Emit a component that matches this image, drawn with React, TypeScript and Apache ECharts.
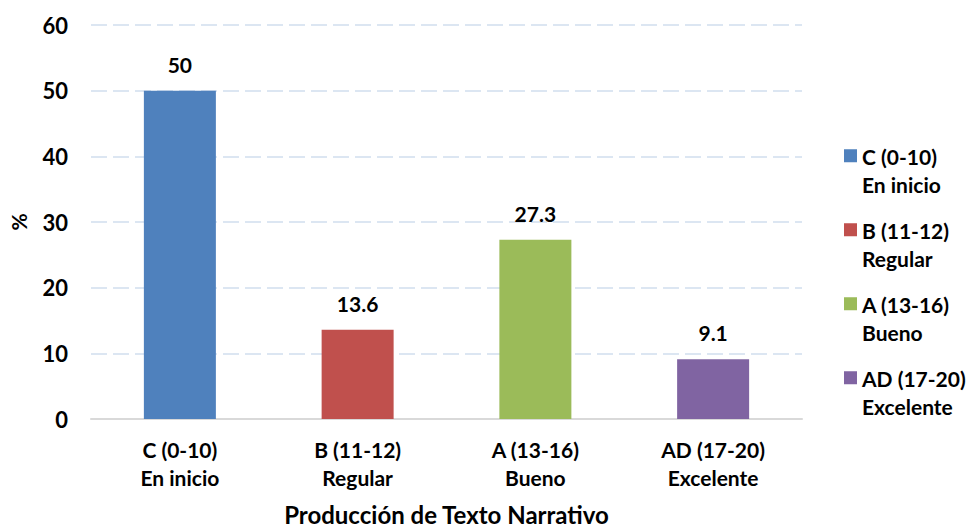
import React, { useEffect, useRef } from "react";
import * as echarts from "echarts";

const categories = ["C (0-10)\nEn inicio", "B (11-12)\nRegular", "A (13-16)\nBueno", "AD (17-20)\nExcelente"];
const values = [50, 13.6, 27.3, 9.1];
const colors = ["#4f81bd", "#c0504d", "#9bbb59", "#8064a2"];
const yTicks = { min: 0, max: 60, interval: 10 };
const xTitle = "Producción de Texto Narrativo";
const yTitle = "%";

const FONT = "Lato";

export default function App() {
  const ref = useRef<HTMLDivElement>(null);
  useEffect(() => {
    if (!ref.current) return;
    const chart = echarts.init(ref.current, null, { renderer: "svg" });
    const series = categories.map((name, i) => ({
      name,
      type: "bar",
      data: values.map((v, j) => (j === i ? v : "-")),
      barWidth: 72,
      barGap: "-100%",
      itemStyle: { color: colors[i] },
      label: {
        show: true,
        position: "top",
        distance: 16,
        color: "#000",
        fontFamily: FONT,
        fontWeight: "bold",
        fontSize: 21,
      },
    }));
    chart.setOption({
      animation: false,
      backgroundColor: "#fff",
      grid: { left: 91, right: 168, top: 25, bottom: 108, containLabel: false, outerBoundsMode: "none" },
      legend: {
        orient: "vertical",
        left: 839,
        top: 137,
        itemWidth: 13,
        itemHeight: 42,
        itemGap: 18,
        icon: "path://M0,0H10V10H0Z M5,31.9L5.02,32L4.98,32Z",
        textStyle: {
          fontFamily: FONT,
          fontWeight: "bold",
          fontSize: 21,
          color: "#000",
          lineHeight: 28,
        },
        data: categories,
      },
      xAxis: {
        type: "category",
        data: categories,
        name: xTitle,
        nameLocation: "middle",
        nameGap: 84,
        nameTextStyle: { fontFamily: FONT, fontWeight: "bold", fontSize: 24, color: "#000", lineHeight: 22 },
        axisLine: { lineStyle: { color: "#d9d9d9", width: 2 } },
        axisTick: { show: false },
        axisLabel: {
          margin: 16,
          fontFamily: FONT,
          fontWeight: "bold",
          fontSize: 21,
          color: "#000",
          lineHeight: 28,
        },
      },
      yAxis: {
        type: "value",
        min: yTicks.min,
        max: yTicks.max,
        interval: yTicks.interval,
        name: yTitle,
        nameLocation: "middle",
        nameGap: 62,
        nameRotate: 90,
        nameTextStyle: { fontFamily: FONT, fontWeight: "bold", fontSize: 21, color: "#000" },
        axisLine: { show: false },
        axisTick: { show: false },
        axisLabel: { margin: 23, fontFamily: FONT, fontWeight: "bold", fontSize: 22, color: "#000" },
        splitLine: { lineStyle: { color: "#dce6f2", width: 2, type: [16, 6] } },
      },
      series,
    });
    return () => chart.dispose();
  }, []);
  return (
    <div
      ref={ref}
      style={{ position: "fixed", left: 0, top: 0, width: 970, height: 527, background: "#fff" }}
    />
  );
}
